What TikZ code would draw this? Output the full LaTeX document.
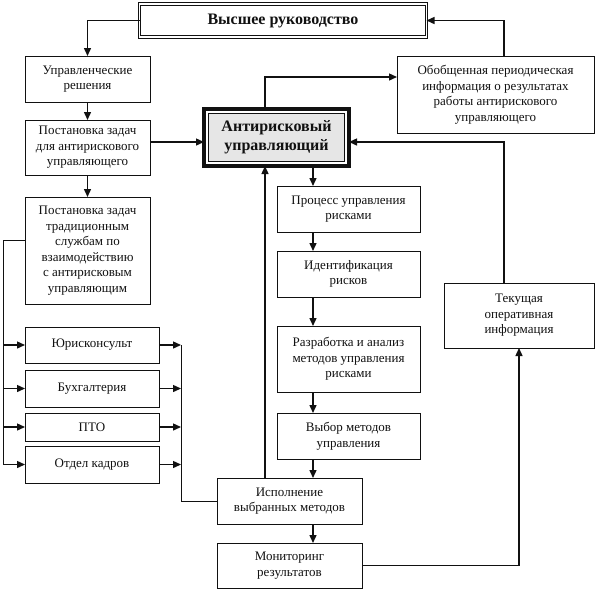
\documentclass[tikz,border=0pt]{standalone}
\usepackage{fontspec}
\setmainfont{Liberation Serif}
\usetikzlibrary{arrows.meta,calc,positioning}
\definecolor{ink}{HTML}{111111}
\definecolor{shade}{HTML}{E6E6E6}
\tikzset{
  block/.style={
    draw=ink,
    line width=0.9pt,
    fill=white,
    text=ink,
    inner sep=0pt,
    outer sep=0pt,
    align=center,
    font=\fontsize{13}{15.5}\selectfont
  },
  headblock/.style={
    block,
    line width=1pt,
    double=white,
    double distance=1.5pt,
    font=\bfseries\fontsize{16}{19}\selectfont
  },
  mainblock/.style={
    block,
    line width=4pt,
    fill=shade,
    font=\bfseries\fontsize{16}{19}\selectfont
  },
  link/.style={
    draw=ink,
    line width=1.4pt,
    -{Triangle[length=8pt,width=7pt]}
  },
  wire/.style={
    draw=ink,
    line width=1pt
  }
}
\newcommand{\servicebox}[4]{%
  \node[block, minimum width=134pt, minimum height=#3pt] (#1) at (92,#2) {#4};
  \draw[link] (lbus |- #1.west) -- (#1.west);
  \draw[link] (#1.east) -- (rbus |- #1.east);
}

\begin{document}
\begin{tikzpicture}[x=1pt,y=-1pt]
  \useasboundingbox (0,0) rectangle (598,590);
  \coordinate (lbus) at (3,0);
  \coordinate (rbus) at (181,0);
  \coordinate (lane) at (265,0);
  \coordinate (spine) at (313,0);

  % --- Top management ---
  \node[headblock, minimum width=287pt, minimum height=33pt] (top) at (283,20.5) {Высшее руководство};

  % --- Left column ---
  \node[block, minimum width=125pt, minimum height=46pt] (decis) at (87.5,79)
    {Управленческие\\решения};
  \node[block, minimum width=125pt, minimum height=55pt] (taskanti) at (87.5,147.5)
    {Постановка задач\\для антирискового\\управляющего};
  \node[block, minimum width=125pt, minimum height=107pt] (taskserv) at (87.5,250.5)
    {Постановка задач\\традиционным\\службам по\\взаимодействию\\с антирисковым\\управляющим};

  % --- Services ---
  \servicebox{jur}{345}{36}{Юрисконсульт}
  \servicebox{buh}{388.5}{37}{Бухгалтерия}
  \servicebox{pto}{427}{28}{ПТО}
  \servicebox{kadr}{464.5}{37}{Отдел кадров}

  % --- Anti-risk manager ---
  \node[mainblock, minimum width=145pt, minimum height=57pt] (anti) at (276.5,137.5)
    {Антирисковый\\управляющий};
  \draw[white, line width=2pt]
    ($(anti.south west)+(3pt,3pt)$) rectangle ($(anti.north east)+(-3pt,-3pt)$);
  \draw[ink, line width=0.8pt]
    ($(anti.south west)+(4.4pt,4.4pt)$) rectangle ($(anti.north east)+(-4.4pt,-4.4pt)$);
  \coordinate (antiin) at ($(anti.west)+(0,-4.5pt)$);
  \coordinate (antiout) at ($(anti.east)+(0,-4.5pt)$);

  % --- Process chain ---
  \node[block, minimum width=143pt, minimum height=46pt] (proc) at (348.5,209)
    {Процесс управления\\рисками};
  \node[block, minimum width=143pt, minimum height=46pt] (ident) at (348.5,274)
    {Идентификация\\рисков};
  \node[block, minimum width=143pt, minimum height=66pt] (razr) at (348.5,359)
    {Разработка и анализ\\методов управления\\рисками};
  \node[block, minimum width=143pt, minimum height=46pt] (vybor) at (348.5,436)
    {Выбор методов\\управления};
  \node[block, minimum width=145pt, minimum height=46pt] (isp) at (289.5,501)
    {Исполнение\\выбранных методов};
  \node[block, minimum width=145pt, minimum height=45pt] (monit) at (289.5,565.5)
    {Мониторинг\\результатов};

  % --- Right column ---
  \node[block, minimum width=197pt, minimum height=77pt] (obob) at (495.5,94.5)
    {Обобщенная периодическая\\информация о результатах\\работы антирискового\\управляющего};
  \node[block, minimum width=150pt, minimum height=65pt] (tek) at (519,315.5)
    {Текущая\\оперативная\\информация};

  % --- Connectors ---
  \draw[link] (top.west) -| (decis.north);
  \draw[link] (decis) -- (taskanti);
  \draw[link] (taskanti) -- (taskserv);
  \draw[link] (taskanti.east |- antiin) -- (antiin);
  \draw[wire] ([yshift=10.5pt]taskserv.west) -| (lbus |- kadr.west);
  \draw[wire] (rbus |- jur.east) |- (isp.west);

  \draw[link] (anti.north -| lane) |- ([yshift=17.5pt]obob.west);
  \draw[link] ([xshift=8.5pt]obob.north) |- (top.east);
  \draw[link] ([xshift=-15pt]tek.north) |- (antiout);

  \draw[link] (anti.south -| spine) -- (proc.north -| spine);
  \draw[link] (proc.south -| spine) -- (ident.north -| spine);
  \draw[link] (ident.south -| spine) -- (razr.north -| spine);
  \draw[link] (razr.south -| spine) -- (vybor.north -| spine);
  \draw[link] (vybor.south -| spine) -- (isp.north -| spine);
  \draw[link] (isp.south -| spine) -- (monit.north -| spine);
  \draw[link] (isp.north -| lane) -- (anti.south -| lane);
  \draw[link] (monit.east) -| (tek.south);

\end{tikzpicture}
\end{document}
